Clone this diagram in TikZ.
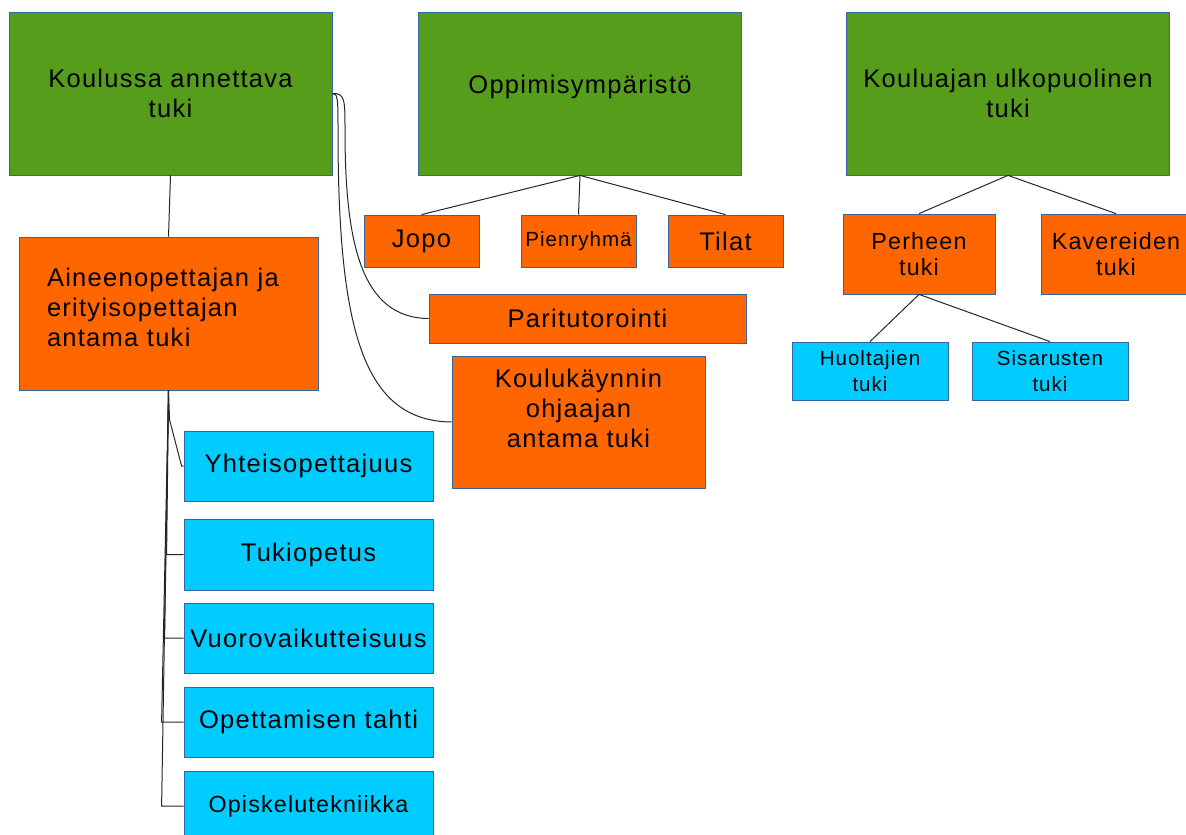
\documentclass[tikz,border=0pt]{standalone}
\usepackage{fontspec}
\setmainfont{Liberation Sans}[LetterSpace=5]
\definecolor{vihrea}{RGB}{87,157,28}
\definecolor{oranssi}{RGB}{255,102,0}
\definecolor{sininen}{RGB}{0,204,255}
\definecolor{reuna}{RGB}{52,101,164}
\newcommand{\isofontti}{\fontsize{25.5}{30}\selectfont}
\newcommand{\keskifontti}{\fontsize{23.3}{26.5}\selectfont}
\newcommand{\pienifontti}{\fontsize{20.5}{26}\selectfont}
\tikzset{
  laatikko/.style={draw=reuna, line width=0.8pt, inner sep=0pt, align=center, font=\isofontti},
  vihreabox/.style={laatikko, fill=vihrea, minimum width=323pt, minimum height=163pt},
  oranssibox/.style={laatikko, fill=oranssi},
  sininenbox/.style={laatikko, fill=sininen},
  yhteys/.style={draw=black!85, line width=1pt}
}
\begin{document}
\begin{tikzpicture}[x=1pt, y=-1pt]
	\useasboundingbox (0,0) rectangle (1186,835);
	%Ylarivi
	\node[vihreabox] (koulu) at (170.5,93.5) {Koulussa annettava\\tuki};
	\node[vihreabox] (oppi) at (580,93.5) {};
	\node[font=\isofontti] (oppi-t) at (580,87) {Oppimisympäristö};
	\node[vihreabox] (ulko) at (1008,93.5) {Kouluajan ulkopuolinen\\tuki};
	%Koulussa annettava tuki
	\node[oranssibox, minimum width=299pt, minimum height=153pt] (aine) at (168.5,313.5) {};
	\node[font=\isofontti, text width=243pt, align=left, inner sep=0pt] (aine-t) at (168.5,307) {Aineenopettajan ja\\erityisopettajan\\antama tuki};
	\node[oranssibox, minimum width=317pt, minimum height=49pt] (pari) at (587.5,318.5) {Paritutorointi};
	\node[oranssibox, minimum width=253pt, minimum height=132pt] (ohj) at (578.5,422) {};
	\node[align=center, font=\isofontti] (ohj-t) at (578.5,408) {Koulukäynnin\\ohjaajan\\antama tuki};
	%Oppimisymparisto
	\node[oranssibox, minimum width=115pt, minimum height=52pt] (jopo) at (421.5,241) {Jopo};
	\node[oranssibox, minimum width=115pt, minimum height=52pt, font=\pienifontti] (pien) at (578.5,241) {Pienryhmä};
	\node[oranssibox, minimum width=115pt, minimum height=52pt] (tilat) at (725.5,241) {Tilat};
	%Kouluajan ulkopuolinen tuki
	\node[oranssibox, minimum width=152pt, minimum height=80pt, font=\keskifontti] (perhe) at (919,254) {Perheen\\tuki};
	\node[oranssibox, minimum width=150pt, minimum height=80pt, font=\keskifontti] (kaveri) at (1116,254) {Kavereiden\\tuki};
	\node[sininenbox, minimum width=156pt, minimum height=58pt, font=\pienifontti] (huolt) at (870,371) {Huoltajien\\tuki};
	\node[sininenbox, minimum width=156pt, minimum height=58pt, font=\pienifontti] (sisar) at (1050,371) {Sisarusten\\tuki};
	%Opettajan keinot
	\node[sininenbox, minimum width=249pt, minimum height=70pt] (yht) at (308.5,466) {Yhteisopettajuus};
	\node[sininenbox, minimum width=249pt, minimum height=71pt] (tukiop) at (308.5,554.5) {Tukiopetus};
	\node[sininenbox, minimum width=249pt, minimum height=70pt] (vuoro) at (308.5,638) {Vuorovaikutteisuus};
	\node[sininenbox, minimum width=249pt, minimum height=70pt] (tahti) at (308.5,722) {Opettamisen tahti};
	\node[sininenbox, minimum width=249pt, minimum height=70pt, font=\keskifontti] (opisk) at (308.5,806) {Opiskelutekniikka};
	%Yhteydet
	\draw[yhteys] (koulu.south) -- (aine.north);
	\draw[yhteys] (koulu.east) .. controls (345,93) and (345,100) .. (345,130) .. controls (345,240) and (360,318) .. (pari.west);
	\draw[yhteys] (koulu.east) .. controls (338,93) and (338,100) .. (338,130) .. controls (338,330) and (363,421) .. (ohj.west);
	\foreach \b in {jopo, pien, tilat}
		\draw[yhteys] (oppi.south) -- (\b.north);
	\draw[yhteys] (ulko.south) -- (perhe.north);
	\draw[yhteys] (ulko.south) -- (kaveri.north);
	\draw[yhteys] (perhe.south) -- (huolt.north);
	\draw[yhteys] (perhe.south) -- (sisar.north);
	\draw[yhteys] (aine.south) -- ([xshift=-14pt, yshift=46pt]yht.west) -- ([xshift=-2pt]yht.west) -- (yht.west);
	\foreach \b/\d in {tukiop/17, vuoro/19, tahti/22, opisk/22}
		\draw[yhteys] (aine.south) -- ([xshift=-\d pt]\b.west) -- (\b.west);
\end{tikzpicture}
\end{document}
